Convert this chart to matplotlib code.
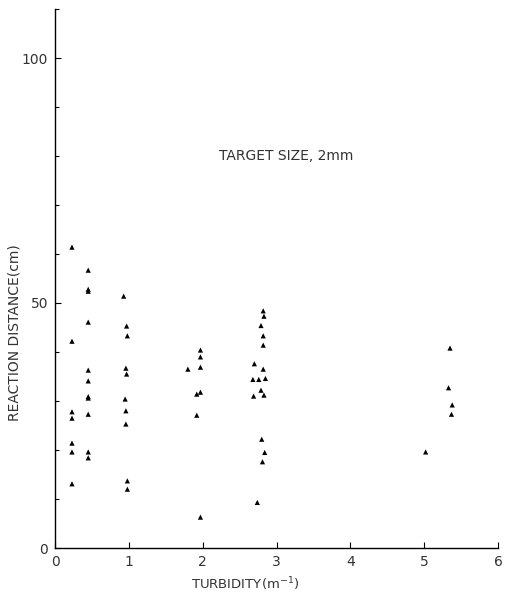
import matplotlib.pyplot as plt
from matplotlib.ticker import MultipleLocator

# turbidity (m^-1) and reaction distance (cm)
turbidity = [0.23, 0.23, 0.23, 0.23, 0.23, 0.23, 0.23,
             0.45, 0.45, 0.45, 0.45, 0.45, 0.45, 0.45, 0.45, 0.45, 0.45, 0.45,
             0.93, 0.97, 0.98, 0.96, 0.97, 0.95, 0.96, 0.96, 0.98, 0.98,
             1.97, 1.97, 1.80, 1.97, 1.97, 1.92, 1.92, 1.97,
             2.82, 2.83, 2.79, 2.82, 2.82, 2.70, 2.82, 2.68, 2.76, 2.85,
             2.79, 2.69, 2.83, 2.80, 2.84, 2.81, 2.74,
             5.02, 5.35, 5.33, 5.38, 5.37]
distance = [61.4, 42.2, 27.8, 26.5, 21.4, 19.6, 13.1,
            56.7, 52.4, 52.8, 46.1, 36.3, 34.1, 30.6, 30.9, 27.3, 19.6, 18.4,
            51.4, 45.3, 43.3, 36.7, 35.5, 30.4, 28.0, 25.3, 13.7, 12.0,
            40.4, 39.0, 36.5, 36.9, 31.8, 31.4, 27.1, 6.3,
            48.4, 47.3, 45.4, 43.3, 41.4, 37.6, 36.5, 34.4, 34.4, 34.6,
            32.2, 31.0, 31.2, 22.2, 19.5, 17.6, 9.3,
            19.6, 40.8, 32.7, 29.2, 27.3]

plt.rcParams['font.family'] = 'DejaVu Sans'
txt = '#333333'

fig = plt.figure(figsize=(5.11, 5.95), dpi=100)
ax = fig.add_axes([55 / 511, 47 / 595, 443 / 511, 539 / 595])

ax.scatter(turbidity, distance, marker='^', s=14, c='black', edgecolors='none', zorder=3)

ax.set_xlim(0, 6)
ax.set_ylim(0, 110)
ax.spines['top'].set_visible(False)
ax.spines['right'].set_visible(False)
ax.spines['left'].set_linewidth(1.0)
ax.spines['bottom'].set_linewidth(1.0)

ax.xaxis.set_major_locator(MultipleLocator(1))
ax.yaxis.set_major_locator(MultipleLocator(50))
ax.yaxis.set_minor_locator(MultipleLocator(10))
ax.tick_params(direction='in', length=4, width=0.8, labelsize=10, labelcolor=txt, pad=5)
ax.tick_params(which='minor', direction='in', length=3, width=0.8)

ax.set_xlabel('TURBIDITY(m$^{-1}$)', fontsize=9.5, color=txt)
ax.xaxis.set_label_coords((245 - 55) / 443, -0.05)
ax.set_ylabel('REACTION DISTANCE(cm)', fontsize=10, color=txt)
ax.yaxis.set_label_coords(-0.075, 0.40)

ax.text(2.22, 80, 'TARGET SIZE, 2mm', fontsize=10, color=txt, va='center')

fig.savefig('out.png', dpi=100)
